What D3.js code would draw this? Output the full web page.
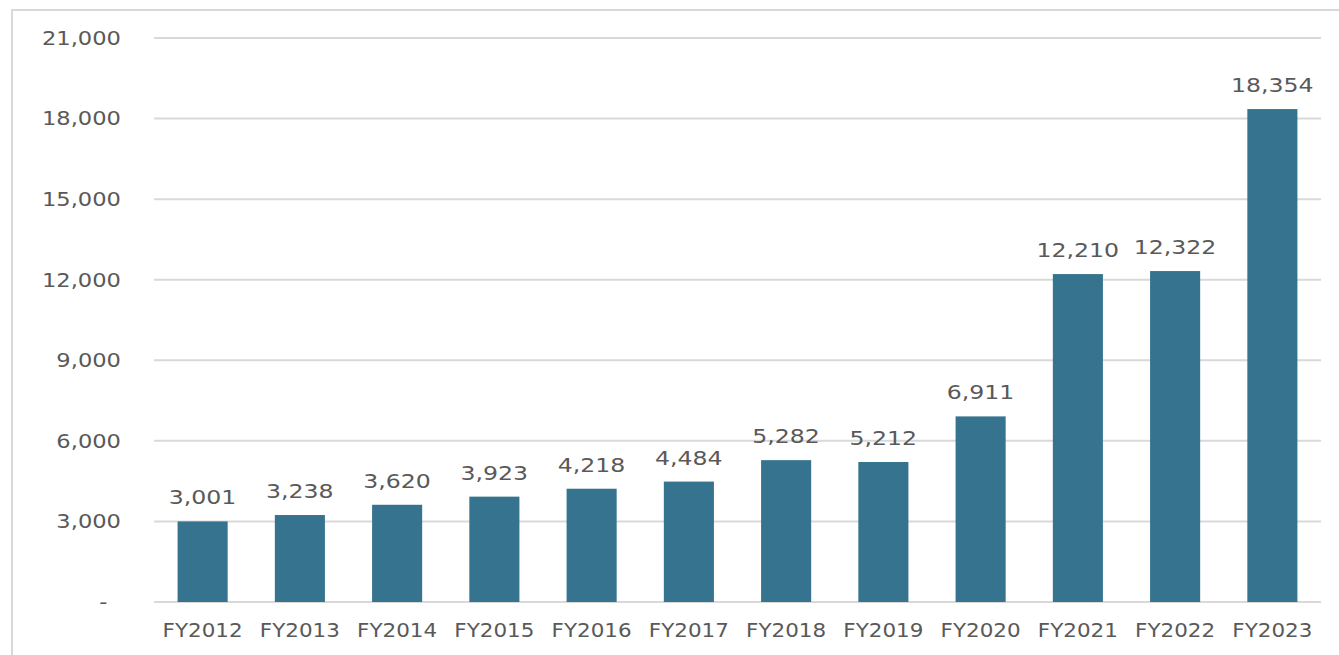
<!DOCTYPE html>
<html>
<head>
<meta charset="utf-8">
<script src="https://cdn.jsdelivr.net/npm/d3@7"></script>
<style>
  body { margin: 0; background: #fff; }
  text { font-family: "DejaVu Sans", sans-serif; fill: #595959; }
</style>
</head>
<body>
<div id="chart"></div>
<script>
const YEARS = ["FY2012", "FY2013", "FY2014", "FY2015", "FY2016", "FY2017", "FY2018", "FY2019", "FY2020", "FY2021", "FY2022", "FY2023"];
const VALUES = [3001, 3238, 3620, 3923, 4218, 4484, 5282, 5212, 6911, 12210, 12322, 18354];
const Y_TICKS = [0, 3000, 6000, 9000, 12000, 15000, 18000, 21000];

const WIDTH = 1339;
const HEIGHT = 655;
const LEFT = 154;
const RIGHT = 1321;
const TOP = 38;
const BOTTOM = 602;
const BAR_COLOR = "#36738f";
const GRID_COLOR = "#d9d9d9";
const TEXT_COLOR = "#595959";
// the source font is wide, so glyphs get stretched sideways
const STRETCH = "scale(1.13,1)";
const LABEL_STRETCH = "scale(1.18,1)";

var svg = d3.select("#chart")
  .append("svg")
  .attr("width", WIDTH)
  .attr("height", HEIGHT);

// frame
svg.append("rect")
  .attr("x", 12)
  .attr("y", 10)
  .attr("width", WIDTH)
  .attr("height", HEIGHT)
  .attr("fill", "none")
  .attr("stroke", GRID_COLOR)
  .attr("stroke-width", 2);

var xScale = d3.scaleBand()
  .domain(YEARS)
  .range([LEFT, RIGHT])
  .paddingInner(0.485)
  .paddingOuter(0.2425);

var yScale = d3.scaleLinear()
  .domain([0, 21000])
  .range([BOTTOM, TOP]);

var fmt = d3.format(",");

// gridlines
svg.append("g")
  .selectAll("line")
  .data(Y_TICKS)
  .join("line")
  .attr("x1", LEFT)
  .attr("x2", RIGHT)
  .attr("y1", d => yScale(d))
  .attr("y2", d => yScale(d))
  .attr("stroke", GRID_COLOR)
  .attr("stroke-width", 2);

// y axis labels
var yAxis = svg.append("g")
  .attr("transform", `translate(121, 0)`)
  .call(d3.axisLeft(yScale).tickValues(Y_TICKS).tickSize(0).tickPadding(0)
    .tickFormat(d => d === 0 ? "-" : fmt(d)));
yAxis.select(".domain").remove();
yAxis.selectAll("text")
  .attr("font-size", 20)
  .attr("transform", STRETCH)
  .style("font-family", null)
  .attr("fill", TEXT_COLOR);
yAxis.selectAll(".tick").filter(d => d === 0).select("text").attr("x", -12);

// bars
svg.append("g")
  .selectAll("rect")
  .data(VALUES)
  .join("rect")
  .attr("x", (d, i) => xScale(YEARS[i]))
  .attr("y", d => yScale(d))
  .attr("width", xScale.bandwidth())
  .attr("height", d => BOTTOM - yScale(d))
  .attr("fill", BAR_COLOR);

// data labels
svg.append("g")
  .selectAll("g")
  .data(VALUES)
  .join("g")
  .attr("transform", (d, i) => `translate(${xScale(YEARS[i]) + xScale.bandwidth() / 2}, ${yScale(d) - 17})`)
  .append("text")
  .attr("transform", LABEL_STRETCH)
  .attr("text-anchor", "middle")
  .attr("font-size", 20)
  .text(d => fmt(d));

// x axis labels
var xAxis = svg.append("g")
  .attr("transform", `translate(0, ${BOTTOM})`)
  .call(d3.axisBottom(xScale).tickSize(0).tickPadding(22));
xAxis.select(".domain").remove();
xAxis.selectAll("text")
  .attr("font-size", 19)
  .attr("transform", STRETCH)
  .style("font-family", null)
  .attr("fill", TEXT_COLOR);
</script>
</body>
</html>
